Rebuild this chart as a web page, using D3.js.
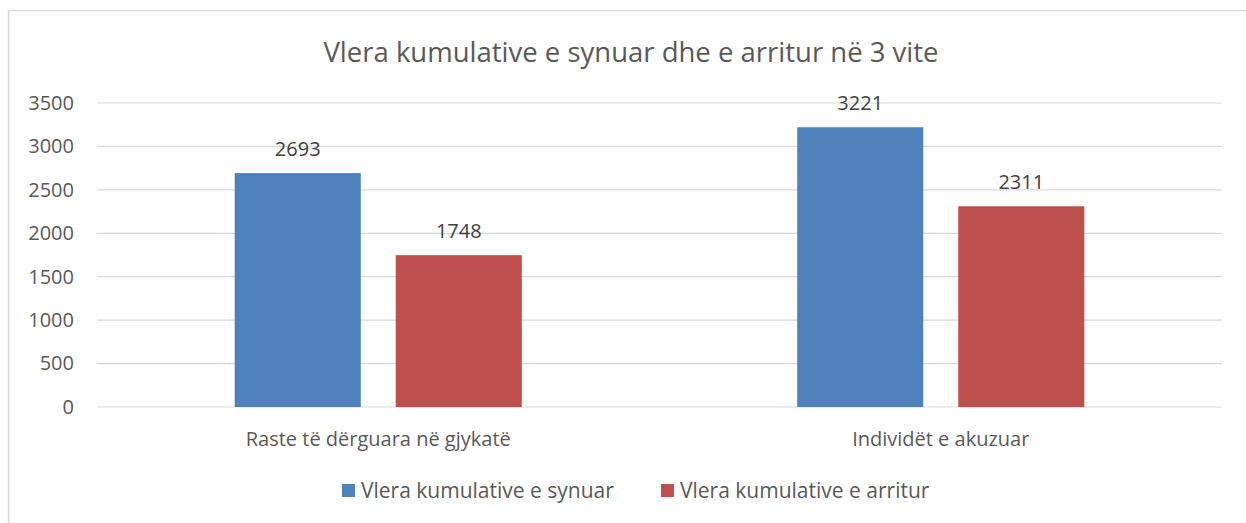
<!DOCTYPE html>
<html>
<head>
<meta charset="utf-8">
<script src="https://cdn.jsdelivr.net/npm/d3@7"></script>
<style>
  body { margin: 0; background: #fff; }
  svg text { font-family: "Open Sans", Lato, sans-serif; fill: #595959; }
</style>
</head>
<body>
<div id="chart"></div>
<script>
// data
const categories = ["Raste të dërguara në gjykatë", "Individët e akuzuar"];
const seriesNames = ["Vlera kumulative e synuar", "Vlera kumulative e arritur"];
const targetValues = [2693, 3221];
const achievedValues = [1748, 2311];
const yTicks = [0, 500, 1000, 1500, 2000, 2500, 3000, 3500];
const colors = ["#4f81bd", "#c0504d"];

const width = 1246;
const height = 523;
const margin = { top: 103, right: 24, bottom: 116, left: 97 };

const svg = d3.select("#chart").append("svg")
  .attr("width", width)
  .attr("height", height);

// chart frame (only top and left edges visible)
svg.append("path")
  .attr("d", `M8.5,${height} V10.5 H${width}`)
  .attr("fill", "none")
  .attr("stroke", "#d9d9d9")
  .attr("stroke-width", 1.5);

svg.append("text")
  .attr("x", 631)
  .attr("y", 62)
  .attr("text-anchor", "middle")
  .style("font-size", "27.5px")
  .text("Vlera kumulative e synuar dhe e arritur në 3 vite");

const x0 = d3.scaleBand()
  .domain(categories)
  .range([margin.left, width - margin.right]);

const x1 = d3.scaleBand()
  .domain(seriesNames)
  .range([0, x0.bandwidth()])
  .paddingInner(0.217)
  .paddingOuter(0.855);

const y = d3.scaleLinear()
  .domain([0, 3500])
  .range([height - margin.bottom, margin.top]);

// gridlines
svg.append("g")
  .selectAll("line")
  .data(yTicks)
  .join("line")
  .attr("x1", margin.left)
  .attr("x2", width - margin.right)
  .attr("y1", d => y(d))
  .attr("y2", d => y(d))
  .attr("stroke", "#d9d9d9")
  .attr("stroke-width", 1.2);

// y axis labels
const yAxis = svg.append("g")
  .attr("transform", `translate(${margin.left}, 0)`)
  .call(d3.axisLeft(y).tickValues(yTicks).tickFormat(d3.format("d")).tickSize(0).tickPadding(23));
yAxis.select(".domain").remove();
yAxis.selectAll("text")
  .style("font-size", "20px")
  .style("font-family", "'Open Sans', sans-serif")
  .style("fill", "#595959");

const rows = categories.map((c, i) => ({
  category: c,
  values: [targetValues[i], achievedValues[i]]
}));

const groups = svg.append("g")
  .selectAll("g")
  .data(rows)
  .join("g")
  .attr("transform", d => `translate(${x0(d.category)}, 0)`);

groups.selectAll("rect")
  .data(d => d.values.map((v, j) => ({ name: seriesNames[j], value: v, j })))
  .join("rect")
  .attr("x", d => x1(d.name))
  .attr("width", x1.bandwidth())
  .attr("y", d => y(d.value))
  .attr("height", d => y(0) - y(d.value))
  .attr("fill", d => colors[d.j]);

groups.selectAll(".value-label")
  .data(d => d.values.map((v, j) => ({ name: seriesNames[j], value: v })))
  .join("text")
  .attr("class", "value-label")
  .attr("x", d => x1(d.name) + x1.bandwidth() / 2)
  .attr("y", d => y(d.value) - 17)
  .attr("text-anchor", "middle")
  .style("font-size", "20px")
  .style("fill", "#404040")
  .text(d => d.value);

// category labels
svg.append("g")
  .selectAll("text")
  .data(categories)
  .join("text")
  .attr("x", d => x0(d) + x0.bandwidth() / 2)
  .attr("y", 446)
  .attr("text-anchor", "middle")
  .style("font-size", "20px")
  .text(d => d);

// legend
const legendX = [342, 661];
const legend = svg.append("g");
seriesNames.forEach((name, i) => {
  const g = legend.append("g").attr("transform", `translate(${legendX[i]}, 491)`);
  g.append("rect").attr("x", 0).attr("y", -7).attr("width", 13).attr("height", 13).attr("fill", colors[i]);
  g.append("text").attr("x", 19).attr("y", 7).style("font-size", "21px").text(name);
});
</script>
</body>
</html>
